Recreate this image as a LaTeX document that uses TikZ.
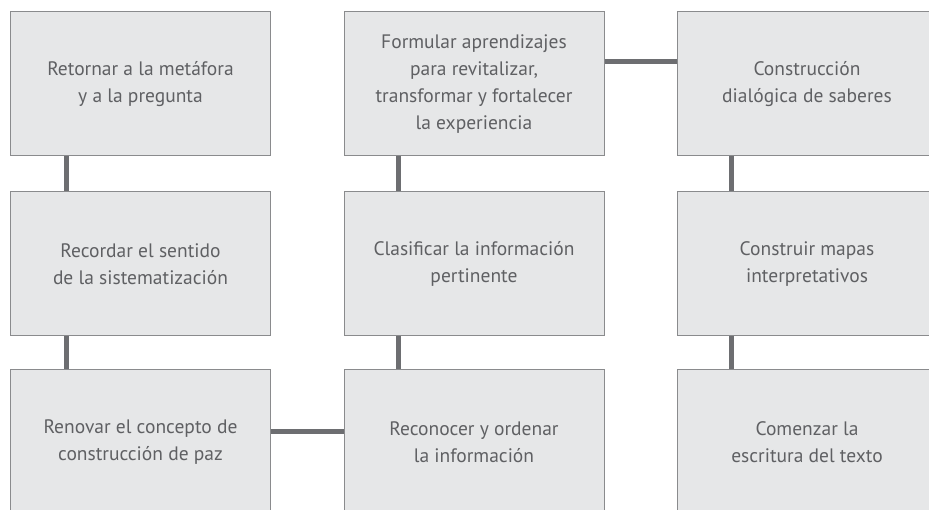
\documentclass[tikz,border=0pt]{standalone}
\usepackage{fontspec}
\setmainfont{PT Sans}
\definecolor{boxfill}{HTML}{E6E7E8}
\definecolor{boxline}{HTML}{8A8B8D}
\definecolor{linkc}{HTML}{6D6E71}
\definecolor{txt}{HTML}{5F6063}
\begin{document}
\begin{tikzpicture}[x=1pt,y=-1pt,
  stepbox/.style={draw=boxline, line width=1pt, fill=boxfill,
    minimum width=260pt, minimum height=144pt, inner sep=0pt,
    text=txt, align=center, font=\fontsize{19.5}{27}\selectfont},
  link/.style={draw=linkc, line width=5pt}]
\useasboundingbox (0,0) rectangle (929,510);
\clip (0,0) rectangle (929,510);
% column 1
\node[stepbox] (a1) at (140.5,84) {Retornar a la metáfora\\y a la pregunta};
\node[stepbox] (a2) at (140.5,264) {Recordar el sentido\\de la sistematización};
\node[stepbox] (a3) at (140.5,442) {Renovar el concepto de\\construcción de paz};
% column 2
\node[stepbox] (b1) at (474,84) {Formular aprendizajes\\para revitalizar,\\transformar y fortalecer\\la experiencia};
\node[stepbox] (b2) at (474,264) {Clasificar la información\\pertinente};
\node[stepbox] (b3) at (474,442) {Reconocer y ordenar\\la información};
% column 3
\node[stepbox] (c1) at (807,84) {Construcción\\dialógica de saberes};
\node[stepbox] (c2) at (807,264) {Construir mapas\\interpretativos};
\node[stepbox] (c3) at (807,442) {Comenzar la\\escritura del texto};
% connectors
\draw[link] ([xshift=56pt]a1.south west) -- ([xshift=56pt]a2.north west);
\draw[link] ([xshift=56pt]a2.south west) -- ([xshift=56pt]a3.north west);
\draw[link] ([xshift=55pt]b1.south west) -- ([xshift=55pt]b2.north west);
\draw[link] ([xshift=55pt]b2.south west) -- ([xshift=55pt]b3.north west);
\draw[link] ([xshift=55pt]c1.south west) -- ([xshift=55pt]c2.north west);
\draw[link] ([xshift=55pt]c2.south west) -- ([xshift=55pt]c3.north west);
\draw[link] ([yshift=-50pt]b1.north east) -- ([yshift=-50pt]c1.north west);
\draw[link] ([yshift=-62pt]a3.north east) -- ([yshift=-62pt]b3.north west);
\end{tikzpicture}
\end{document}
